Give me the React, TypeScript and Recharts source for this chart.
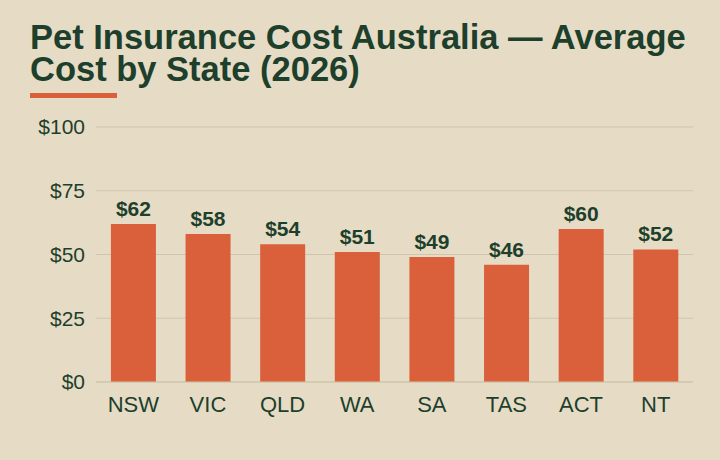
import { Bar, BarChart, CartesianGrid, LabelList, XAxis, YAxis } from "recharts";

const states = ["NSW", "VIC", "QLD", "WA", "SA", "TAS", "ACT", "NT"];
const avgCost = [62, 58, 54, 51, 49, 46, 60, 52];
const yTicks = [0, 25, 50, 75, 100];

const data = states.map((state, i) => ({ state, cost: avgCost[i] }));

const ink = "#1d3f2c";
const bg = "#e6dcc5";

export default function App() {
  return (
    <div
      style={{
        position: "fixed",
        top: 0,
        left: 0,
        width: 720,
        height: 460,
        background: bg,
        fontFamily: "'Liberation Sans', Arial, sans-serif",
      }}
    >
      <div
        style={{
          position: "absolute",
          left: 30,
          top: 21,
          width: 688,
          fontSize: 34.5,
          lineHeight: "32px",
          fontWeight: 700,
          color: ink,
        }}
      >
        Pet Insurance Cost Australia — Average Cost by State (2026)
      </div>
      <div style={{ position: "absolute", left: 30, top: 93, width: 87, height: 5, background: "#d9603b" }} />
      <div style={{ position: "absolute", left: 0, top: 0 }}>
        <BarChart
          width={720}
          height={460}
          data={data}
          margin={{ top: 127, right: 27, bottom: 0, left: 0 }}
          barCategoryGap="20%"
        >
          <CartesianGrid vertical={false} stroke="#cfc5ac" />
          <XAxis
            dataKey="state"
            axisLine={{ stroke: "#cfc5ac" }}
            tickLine={false}
            tickMargin={8}
            tick={{ fill: ink, fontSize: 22 }}
            height={78}
          />
          <YAxis
            width={96}
            domain={[0, 100]}
            ticks={yTicks}
            axisLine={false}
            tickLine={false}
            tickMargin={5}
            tickFormatter={(v: number) => `$${v}`}
            tick={{ fill: ink, fontSize: 21 }}
          />
          <Bar dataKey="cost" fill="#d9603b" isAnimationActive={false}>
            <LabelList
              dataKey="cost"
              position="top"
              offset={8}
              formatter={(v: number) => `$${v}`}
              style={{ fill: ink, fontSize: 21, fontWeight: 700 }}
            />
          </Bar>
        </BarChart>
      </div>
    </div>
  );
}
